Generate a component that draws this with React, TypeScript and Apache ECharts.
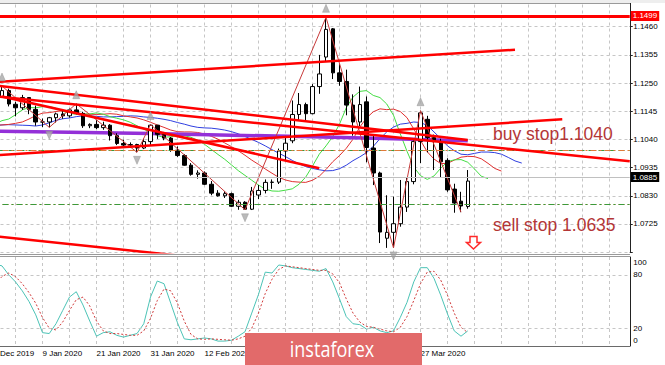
import React, { useEffect, useRef } from "react";
import * as echarts from "echarts";

// ---------- categories (daily bars) ----------
const dates: string[] = [
  "27 Dec 2019", "30 Dec 2019", "31 Dec 2019", "2 Jan 2020", "3 Jan 2020", "6 Jan 2020", "7 Jan 2020", "8 Jan 2020",
  "9 Jan 2020", "10 Jan 2020", "13 Jan 2020", "14 Jan 2020", "15 Jan 2020", "16 Jan 2020", "17 Jan 2020", "20 Jan 2020",
  "21 Jan 2020", "22 Jan 2020", "23 Jan 2020", "24 Jan 2020", "27 Jan 2020", "28 Jan 2020", "29 Jan 2020", "30 Jan 2020",
  "31 Jan 2020", "3 Feb 2020", "4 Feb 2020", "5 Feb 2020", "6 Feb 2020", "7 Feb 2020", "10 Feb 2020", "11 Feb 2020",
  "12 Feb 2020", "13 Feb 2020", "14 Feb 2020", "17 Feb 2020", "18 Feb 2020", "19 Feb 2020", "20 Feb 2020", "21 Feb 2020",
  "24 Feb 2020", "25 Feb 2020", "26 Feb 2020", "27 Feb 2020", "28 Feb 2020", "2 Mar 2020", "3 Mar 2020", "4 Mar 2020",
  "5 Mar 2020", "6 Mar 2020", "9 Mar 2020", "10 Mar 2020", "11 Mar 2020", "12 Mar 2020", "13 Mar 2020", "16 Mar 2020",
  "17 Mar 2020", "18 Mar 2020", "19 Mar 2020", "20 Mar 2020", "23 Mar 2020", "24 Mar 2020", "25 Mar 2020", "26 Mar 2020",
  "27 Mar 2020", "30 Mar 2020", "31 Mar 2020", "1 Apr 2020", "2 Apr 2020", "3 Apr 2020", "6 Apr 2020", "7 Apr 2020",
];
const FUTURE_SLOTS = 24;
// date labels that lie under the watermark in the reference
const hiddenDateLabels = ["24 Feb 2020", "5 Mar 2020", "17 Mar 2020"];

// ---------- OHLC ----------
const opens = [
  1.1092, 1.1177, 1.1200, 1.1222, 1.1171, 1.1158, 1.1196, 1.1152, 1.1105, 1.1105, 1.1121, 1.1135, 1.1128, 1.1150, 1.1137, 1.1091,
  1.1096, 1.1084, 1.1093, 1.1054, 1.1025, 1.1019, 1.1021, 1.1008, 1.1032, 1.1093, 1.1059, 1.1045, 1.1000, 1.0980, 1.0944, 1.0910,
  1.0915, 1.0873, 1.0840, 1.0830, 1.0838, 1.0791, 1.0806, 1.0780, 1.0833, 1.0850, 1.0880, 1.0881, 1.0997, 1.1035, 1.1133, 1.1170,
  1.1136, 1.1237, 1.1347, 1.1452, 1.1288, 1.1256, 1.1168, 1.1105, 1.1180, 1.1008, 1.0915, 1.0672, 1.0694, 1.0726, 1.0788, 1.0883,
  1.1032, 1.1115, 1.1047, 1.1032, 1.0962, 1.0855, 1.0810, 1.0790,
];
const highs = [
  1.1187, 1.1221, 1.1239, 1.1229, 1.1180, 1.1206, 1.1197, 1.1166, 1.1118, 1.1124, 1.1140, 1.1147, 1.1155, 1.1173, 1.1143, 1.1100,
  1.1112, 1.1106, 1.1097, 1.1063, 1.1039, 1.1029, 1.1024, 1.1043, 1.1096, 1.1094, 1.1068, 1.1049, 1.1014, 1.0985, 1.0952, 1.0925,
  1.0921, 1.0885, 1.0851, 1.0847, 1.0842, 1.0815, 1.0810, 1.0863, 1.0870, 1.0891, 1.0891, 1.1006, 1.1053, 1.1185, 1.1213, 1.1177,
  1.1246, 1.1355, 1.1495, 1.1455, 1.1320, 1.1300, 1.1208, 1.1237, 1.1200, 1.1056, 1.0920, 1.0832, 1.0827, 1.0889, 1.0900, 1.1036,
  1.1147, 1.1128, 1.1058, 1.1042, 1.0970, 1.0875, 1.0845, 1.0926,
];
const lows = [
  1.1091, 1.1172, 1.1196, 1.1163, 1.1126, 1.1150, 1.1134, 1.1091, 1.1086, 1.1085, 1.1103, 1.1117, 1.1121, 1.1133, 1.1083, 1.1082,
  1.1078, 1.1076, 1.1036, 1.1019, 1.1010, 1.1008, 1.0992, 1.1004, 1.1020, 1.1042, 1.1037, 1.0994, 1.0975, 1.0942, 1.0905, 1.0894,
  1.0870, 1.0832, 1.0827, 1.0822, 1.0788, 1.0778, 1.0778, 1.0777, 1.0818, 1.0839, 1.0856, 1.0874, 1.0962, 1.1026, 1.1110, 1.1106,
  1.1134, 1.1210, 1.1330, 1.1265, 1.1240, 1.1130, 1.1054, 1.1090, 1.0955, 1.0870, 1.0654, 1.0636, 1.0636, 1.0715, 1.0770, 1.0873,
  1.0952, 1.0992, 1.0926, 1.0900, 1.0845, 1.0767, 1.0769, 1.0782,
];
const closes = [
  1.1177, 1.1200, 1.1222, 1.1172, 1.1158, 1.1196, 1.1152, 1.1105, 1.1105, 1.1121, 1.1135, 1.1128, 1.1150, 1.1137, 1.1091, 1.1096,
  1.1084, 1.1093, 1.1054, 1.1025, 1.1019, 1.1021, 1.1008, 1.1032, 1.1093, 1.1059, 1.1045, 1.1000, 1.0980, 1.0944, 1.0910, 1.0915,
  1.0873, 1.0840, 1.0830, 1.0838, 1.0791, 1.0806, 1.0780, 1.0848, 1.0850, 1.0880, 1.0881, 1.0997, 1.1026, 1.1133, 1.1170, 1.1136,
  1.1237, 1.1284, 1.1450, 1.1288, 1.1256, 1.1168, 1.1105, 1.1170, 1.1010, 1.0915, 1.0695, 1.0694, 1.0726, 1.0788, 1.0883, 1.1032,
  1.1139, 1.1047, 1.1032, 1.0957, 1.0852, 1.0803, 1.0792, 1.0885,
];

// ---------- Alligator (already shifted: first value sits on category 0) ----------
const alligatorLips = [
  1.1095, 1.1098, 1.1110, 1.1116, 1.1132,
  1.1150, 1.1159, 1.1158, 1.1162, 1.1163, 1.1156, 1.1145, 1.1137, 1.1134, 1.1134,
  1.1135, 1.1139, 1.1134, 1.1125, 1.1119, 1.1113, 1.1104, 1.1091, 1.1078, 1.1066,
  1.1054, 1.1048, 1.1050, 1.1054, 1.1054, 1.1048, 1.1037, 1.1022, 1.1003, 1.0984,
  1.0966, 1.0945, 1.0924, 1.0906, 1.0888, 1.0870, 1.0855, 1.0848, 1.0847, 1.0851,
  1.0856, 1.0873, 1.0900, 1.0941, 1.0985, 1.1016, 1.1051, 1.1097, 1.1158, 1.1198,
  1.1219, 1.1222, 1.1204, 1.1196, 1.1172, 1.1130, 1.1061, 1.0996, 1.0937, 1.0905,
  1.0891, 1.0904, 1.0933, 1.0957, 1.0964, 1.0965, 1.0955, 1.0930, 1.0903, 1.0894,
];
const alligatorTeeth = [
  1.1095, 1.1093, 1.1094, 1.1096, 1.1100, 1.1105, 1.1116,
  1.1129, 1.1138, 1.1140, 1.1144, 1.1147, 1.1145, 1.1140, 1.1135, 1.1134, 1.1133,
  1.1134, 1.1136, 1.1134, 1.1128, 1.1124, 1.1120, 1.1113, 1.1104, 1.1094, 1.1085,
  1.1075, 1.1069, 1.1068, 1.1068, 1.1066, 1.1060, 1.1052, 1.1041, 1.1027, 1.1013,
  1.0998, 1.0981, 1.0963, 1.0947, 1.0930, 1.0914, 1.0899, 1.0889, 1.0883, 1.0881,
  1.0880, 1.0888, 1.0903, 1.0928, 1.0957, 1.0980, 1.1007, 1.1041, 1.1086, 1.1120,
  1.1143, 1.1154, 1.1151, 1.1153, 1.1144, 1.1121, 1.1079, 1.1036, 1.0994, 1.0967,
  1.0950, 1.0951, 1.0963, 1.0974, 1.0977, 1.0976, 1.0968, 1.0951, 1.0932, 1.0922,
];
const alligatorJaw = [
  1.1090, 1.1092, 1.1094, 1.1095, 1.1094, 1.1093, 1.1092, 1.1090, 1.1094, 1.1102,
  1.1111, 1.1117, 1.1120, 1.1125, 1.1128, 1.1128, 1.1126, 1.1124, 1.1124, 1.1125,
  1.1126, 1.1128, 1.1127, 1.1124, 1.1122, 1.1119, 1.1115, 1.1110, 1.1103, 1.1097,
  1.1090, 1.1085, 1.1083, 1.1082, 1.1079, 1.1075, 1.1069, 1.1061, 1.1051, 1.1040,
  1.1029, 1.1016, 1.1002, 1.0989, 1.0976, 1.0962, 1.0949, 1.0939, 1.0932, 1.0927,
  1.0923, 1.0924, 1.0931, 1.0944, 1.0961, 1.0975, 1.0991, 1.1014, 1.1043, 1.1068,
  1.1086, 1.1097, 1.1100, 1.1105, 1.1103, 1.1092, 1.1068, 1.1043, 1.1016, 1.0998,
  1.0985, 1.0983, 1.0988, 1.0993, 1.0993, 1.0991, 1.0985, 1.0973, 1.0960, 1.0952,
];
// long moving average (thick violet), [category, price]
const longMA: [number, number][] = [[0, 1.1071], [12, 1.1067], [24, 1.1062], [36, 1.1056], [48, 1.1050], [60, 1.1043], [71, 1.1035]];

// ---------- drawn objects: [category, price] ----------
const upperChannel: [number, number][] = [[0, 1.1252], [78, 1.1374]];
const lowerChannel: [number, number][] = [[0, 1.0979], [85, 1.1115]];
const upperFallingLine: [number, number][] = [[0, 1.1244], [71, 1.1038]];
const longFallingLine: [number, number][] = [[0, 1.1203], [95, 1.0959]];
const steepFallingLine: [number, number][] = [[2, 1.1200], [49, 1.0933]];
const bottomLine: [number, number][] = [[0, 1.0682], [40, 1.0576]];
const zigzag: [number, number][] = [
  [2, 1.1239], [9, 1.1085], [13, 1.1173], [22, 1.0992], [24, 1.1096], [38, 1.0778],
  [50, 1.1495], [60, 1.0636], [64, 1.1147], [70, 1.0769],
];
const fractalsUp: [number, number][] = [[2, 1.1239], [13, 1.1173], [24, 1.1096], [50, 1.1495], [64, 1.1147]];
const fractalsDown: [number, number][] = [[9, 1.1085], [22, 1.0992], [38, 1.0778], [60, 1.0636]];

// ---------- levels ----------
const resistanceLevel = 1.1499;
const supportLevel = 1.0623;
const buyStopLevel = 1.104;
const upperOrangeLevel = 1.0995;
const lowerOrangeLevel = 1.081;
const sellZoneLevel = 1.0766;
const lastPrice = 1.0885;

// ---------- stochastic (from category 1) ----------
const stochMain = [
  92,
  90, 80, 72, 62, 50, 35, 15, 14, 25, 40,
  55, 61, 46, 28, 11, 15, 16, 12, 10, 12,
  14, 25, 55, 73, 70, 48, 26, 8, 7, 8,
  9, 8, 5.5, 5.5, 6.5, 11, 16, 37, 58, 83,
  82, 91, 90, 88, 87, 86, 85, 84, 87, 72,
  53, 33, 25, 24, 19, 21, 17, 15, 17, 32,
  49, 72, 88, 88, 76, 57, 36, 17, 11, 17,
];
const stochSignal = [
  70,
  78, 82, 78, 70, 60, 48, 32, 20, 18, 27,
  40, 52, 55, 45, 28, 17, 14, 14, 13, 12,
  12, 17, 31, 51, 64, 62, 48, 28, 13, 8,
  7.5, 8, 7.5, 7, 6.5, 8, 11, 20, 37, 59,
  75, 86, 90, 89, 88, 87, 86, 85, 85, 81,
  71, 53, 37, 27, 22, 21, 19, 17, 16, 21,
  33, 51, 70, 83, 84, 74, 57, 37, 21, 15,
];

const priceTicks = { min: 1.062, max: 1.1565, step: 0.0105 };
const stochLabels = [0, 20, 80, 100];

const FONT = "Liberation Sans";
const STEP = 6.75;
const GL = -11.5;

export default function App() {
  const ref = useRef<HTMLDivElement>(null);
  useEffect(() => {
    if (!ref.current) return;
    const chart = echarts.init(ref.current, undefined, { renderer: "svg" });
    const cats = dates.concat(Array.from({ length: FUTURE_SLOTS }, (_, j) => "+" + (j + 1)));
    const n = cats.length;
    const GW = STEP * (n - 1);
    const candles = dates.map((_, k) => [opens[k], closes[k], lows[k], highs[k]]);
    const gridSplit = { show: true, interval: (i: number) => i % 4 === 0, lineStyle: { color: "#c6c6c6", type: [3, 3], width: 1 } };
    const redLine = (data: [number, number][], width = 2.5) => ({
      type: "line", xAxisIndex: 0, yAxisIndex: 0, data, showSymbol: false, silent: true, z: 5,
      lineStyle: { color: "#ff0000", width }, itemStyle: { color: "#ff0000" },
    });
    const boxLabel = (txt: string, bg: string) => ({
      show: true, position: "end", distance: 1, formatter: txt, color: "#ffffff", backgroundColor: bg,
      padding: [1, 2, 0, 2], fontSize: 8, fontFamily: FONT, lineHeight: 9,
    });
    const option: any = {
      animation: false,
      backgroundColor: "#ffffff",
      textStyle: { fontFamily: FONT },
      grid: [
        { left: GL, top: -1.48, width: GW, height: 253.66, show: false, outerBoundsMode: "none", containLabel: false },
        { left: GL, top: 257, width: GW, height: 89, show: false, outerBoundsMode: "none", containLabel: false },
      ],
      xAxis: [
        {
          type: "category", gridIndex: 0, data: cats, boundaryGap: false,
          axisLine: { show: false }, axisTick: { show: false }, axisLabel: { show: false }, splitLine: gridSplit,
        },
        {
          type: "category", gridIndex: 1, data: cats, boundaryGap: false,
          axisLine: { show: true, lineStyle: { color: "#6a6a6a", width: 1 } }, axisTick: { show: false },
          axisLabel: {
            show: true,
            interval: (i: number, v: string) => i % 8 === 0 && i < dates.length && hiddenDateLabels.indexOf(v) < 0,
            formatter: (v: string, i: number) => (i === 0 ? `{edge|${v.split(" ").slice(1).join(" ")}}` : v),
            rich: { edge: { padding: [0, 0, 0, 11.5], fontSize: 8, fontFamily: FONT, color: "#000000" } },
            align: "left", fontSize: 8, color: "#000000", margin: 3, fontFamily: FONT, hideOverlap: false,
          },
          splitLine: gridSplit,
        },
      ],
      yAxis: [
        {
          type: "value", gridIndex: 0, position: "right", scale: true,
          min: priceTicks.min, max: priceTicks.max, interval: priceTicks.step,
          axisLine: { show: true, lineStyle: { color: "#222222" } },
          axisTick: { show: true, length: 3, lineStyle: { color: "#222222" } },
          axisLabel: {
            fontSize: 8, color: "#000000", margin: 3.5, fontFamily: FONT,
            formatter: (v: number) => (v < 1.0625 || v > 1.15 ? "" : v.toFixed(4)),
          },
          splitLine: { show: true, lineStyle: { color: "#c6c6c6", type: [3, 3] } },
        },
        {
          type: "value", gridIndex: 1, position: "right", min: 0, max: 100, interval: 20,
          axisLine: { show: true, lineStyle: { color: "#222222" } },
          axisTick: { show: false },
          axisLabel: {
            fontSize: 8, color: "#000000", margin: 3.5, fontFamily: FONT,
            formatter: (v: number) =>
              v === 100 ? "{t|100}" : v === 0 ? "{b|0}" : stochLabels.indexOf(v) >= 0 ? String(v) : "",
            rich: {
              t: { padding: [11, 0, 0, 0], fontSize: 8, fontFamily: FONT, color: "#000" },
              b: { padding: [0, 0, 12, 0], fontSize: 8, fontFamily: FONT, color: "#000" },
            },
          },
          splitLine: { show: false },
        },
      ],
      series: [
        {
          type: "line", name: "jaw", xAxisIndex: 0, yAxisIndex: 0, data: alligatorJaw, showSymbol: false, silent: true, z: 2,
          lineStyle: { color: "#2f3fe0", width: 1 },
        },
        {
          type: "line", name: "teeth", xAxisIndex: 0, yAxisIndex: 0, data: alligatorTeeth, showSymbol: false, silent: true, z: 2,
          lineStyle: { color: "#e03030", width: 1 },
        },
        {
          type: "line", name: "lips", xAxisIndex: 0, yAxisIndex: 0, data: alligatorLips, showSymbol: false, silent: true, z: 2,
          lineStyle: { color: "#44dd44", width: 1 },
        },
        {
          type: "line", name: "ma", xAxisIndex: 0, yAxisIndex: 0, data: longMA, showSymbol: false, silent: true, z: 2,
          lineStyle: { color: "#9430d8", width: 3.5 },
        },
        {
          type: "candlestick", xAxisIndex: 0, yAxisIndex: 0, data: candles, barWidth: 4, z: 3, silent: true,
          itemStyle: {
            color: "#ffffff", color0: "#000000", borderColor: "#000000", borderColor0: "#000000",
            borderColorDoji: "#000000", borderWidth: 1,
          },
          markLine: {
            silent: true, symbol: ["none", "none"], animation: false, label: { show: false },
            data: [
              { yAxis: buyStopLevel, lineStyle: { color: "#3a9a3a", type: [6, 4], width: 1 } },
              { yAxis: upperOrangeLevel, lineStyle: { color: "#e07a3a", type: [6, 3, 2, 3], width: 1 } },
              { yAxis: lowerOrangeLevel, lineStyle: { color: "#e07a3a", type: [6, 3, 2, 3], width: 1 } },
              { yAxis: sellZoneLevel, lineStyle: { color: "#3a9a3a", type: [6, 3, 2, 3], width: 1 } },
              { yAxis: lastPrice, lineStyle: { color: "#c0c0c0", type: "solid", width: 1 }, label: boxLabel(lastPrice.toFixed(4), "#000000") },
              { yAxis: resistanceLevel, lineStyle: { color: "#ff0000", type: "solid", width: 3 }, label: boxLabel(resistanceLevel.toFixed(4), "#ff0000") },
              { yAxis: supportLevel, lineStyle: { color: "#ff0000", type: "solid", width: 3 }, label: boxLabel(supportLevel.toFixed(4), "#ff0000") },
            ],
          },
        },
        {
          type: "line", name: "zigzag", xAxisIndex: 0, yAxisIndex: 0, data: zigzag, showSymbol: false, silent: true, z: 4,
          lineStyle: { color: "#c83a3a", width: 1 },
        },
        redLine(upperChannel),
        redLine(lowerChannel),
        redLine(upperFallingLine),
        redLine(longFallingLine),
        redLine(steepFallingLine),
        redLine(bottomLine),
        {
          type: "scatter", xAxisIndex: 0, yAxisIndex: 0, data: fractalsUp, symbol: "triangle", symbolSize: [7, 8],
          symbolOffset: [0, -9], silent: true, z: 6, itemStyle: { color: "#a9a9a9", borderColor: "#8c8c8c", borderWidth: 0.5 },
        },
        {
          type: "scatter", xAxisIndex: 0, yAxisIndex: 0, data: fractalsDown, symbol: "triangle", symbolRotate: 180,
          symbolSize: [7, 8], symbolOffset: [0, 8], silent: true, z: 6,
          itemStyle: { color: "#a9a9a9", borderColor: "#8c8c8c", borderWidth: 0.5 },
        },
        {
          type: "line", name: "stoch", xAxisIndex: 1, yAxisIndex: 1, data: stochMain.map((v, j) => [j + 1, v]),
          showSymbol: false, silent: true, z: 3, lineStyle: { color: "#4cc3b6", width: 1 },
          markLine: {
            silent: true, symbol: ["none", "none"], animation: false, label: { show: false },
            lineStyle: { color: "#c6c6c6", type: [3, 3], width: 1 },
            data: [{ yAxis: 20 }, { yAxis: 80 }],
          },
        },
        {
          type: "line", name: "signal", xAxisIndex: 1, yAxisIndex: 1, data: stochSignal.map((v, j) => [j + 1, v]),
          showSymbol: false, silent: true, z: 3, lineStyle: { color: "#d03a3a", width: 1, type: [2, 2] },
        },
      ],
      graphic: [
        { type: "rect", shape: { x: 0, y: 0, width: 665, height: 3 }, style: { fill: "#eeeeee" }, silent: true, z: 10 },
        { type: "line", shape: { x1: 0, y1: 3.5, x2: 630, y2: 3.5 }, style: { stroke: "#9a9a9a", lineWidth: 1 }, silent: true, z: 10 },
        { type: "line", shape: { x1: 0, y1: 254.5, x2: 630, y2: 254.5 }, style: { stroke: "#9a9a9a", lineWidth: 1 }, silent: true, z: 10 },
        { type: "line", shape: { x1: 0, y1: 256.5, x2: 630, y2: 256.5 }, style: { stroke: "#9a9a9a", lineWidth: 1 }, silent: true, z: 10 },
        {
          type: "text", x: 493, y: 134, silent: true, z: 20,
          style: { text: "buy stop1.1040", fill: "#b33636", font: `17.5px "${FONT}"`, align: "left", verticalAlign: "middle", textAlign: "left", textVerticalAlign: "middle" },
        },
        {
          type: "text", x: 493, y: 225, silent: true, z: 20,
          style: { text: "sell stop 1.0635", fill: "#b33636", font: `17.5px "${FONT}"`, align: "left", verticalAlign: "middle", textAlign: "left", textVerticalAlign: "middle" },
        },
        {
          type: "polygon", silent: true, z: 20,
          shape: { points: [[470, 236.5], [477, 236.5], [477, 242.5], [480.5, 242.5], [473.5, 249], [466.5, 242.5], [470, 242.5]] },
          style: { fill: "#ffffff", stroke: "#ff2a2a", lineWidth: 1.5 },
        },
        { type: "rect", shape: { x: 245, y: 333, width: 177, height: 32 }, style: { fill: "#e26a6a" }, silent: true, z: 30 },
        {
          type: "text", x: 332, y: 348.5, scaleX: 0.82, silent: true, z: 31,
          style: { text: "instaforex", fill: "#ffffff", font: `22px "Open Sans"`, align: "center", verticalAlign: "middle", textAlign: "center", textVerticalAlign: "middle" },
        },
      ],
    };
    chart.setOption(option);
    return () => chart.dispose();
  }, []);
  return <div ref={ref} style={{ position: "fixed", left: 0, top: 0, width: 665, height: 365, background: "#ffffff" }} />;
}
